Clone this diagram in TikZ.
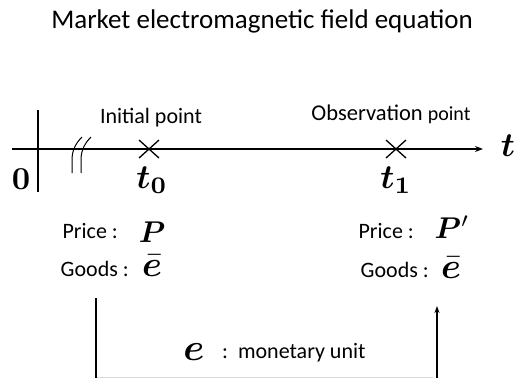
\documentclass[tikz,border=0pt]{standalone}
\usepackage{amsmath,bm}
\usepackage{graphicx}
\usepackage[no-math]{fontspec}
\setmainfont{Carlito}
\usetikzlibrary{arrows.meta,calc}
\tikzset{
  txt/.style={inner sep=0pt, font=\fontsize{22}{26}\selectfont},
  mth/.style={inner sep=0pt},
  axisline/.style={line width=1.6pt},
  barline/.style={line width=1.4pt},
  crossmark/.style={line width=1.3pt},
}
\newcommand{\mbig}[2]{\scalebox{#1}{$#2$}}
\begin{document}
\begin{tikzpicture}[x=1pt,y=-1pt]
\useasboundingbox (0,0) rectangle (515,378);
% title
\node[txt, font=\fontsize{27}{32}\selectfont, anchor=base] (title) at (262,28) {Market electromagnetic field equation};
% axis
\coordinate (axs) at (12,149);
\coordinate (axe) at (483,149);
\draw[axisline, -{Stealth[length=8pt,width=6pt]}] (axs) -- (axe);
\node[mth] (tlab) at (508,146) {\mbig{3.4}{\boldsymbol{t}}};
% origin bar
\coordinate (ob1) at (38,110);
\coordinate (ob2) at (38,192);
\draw[barline] (ob1) -- (ob2);
\node[mth] (zero) at (21,179) {\mbig{3.2}{\mathbf{0}}};
% break marks
\draw[line width=1pt] (82,137) .. controls (76,143) and (72,150) .. (72,160) -- (72,173);
\draw[line width=1pt] (91,137) .. controls (85,143) and (81,150) .. (81,160) -- (81,173);
% crosses
\coordinate (c0) at (149,149);
\coordinate (c1) at (396,149);
\draw[crossmark] ($(c0)+(-10,-9)$) -- ($(c0)+(10,9)$) ($(c0)+(-10,9)$) -- ($(c0)+(10,-9)$);
\draw[crossmark] ($(c1)+(-10,-9)$) -- ($(c1)+(10,9)$) ($(c1)+(-10,9)$) -- ($(c1)+(10,-9)$);
\node[txt] (init) at (151,118) {Initial point};
\node[txt, font=\fontsize{22.5}{26}\selectfont] (obs) at (391,114) {Observation {\fontsize{20}{24}\selectfont point}};
\node[mth] (t0) at (152,180) {\mbig{3.4}{\boldsymbol{t_0}}};
\node[mth] (t1) at (396,180) {\mbig{3.4}{\boldsymbol{t_1}}};
% left info
\node[txt, anchor=east] (pl) at (118,231) {Price :};
\node[mth] (Pl) at (152,232) {\mbig{3.0}{\boldsymbol{P}}};
\node[txt, anchor=east] (gl) at (129,269) {Goods :};
\node[mth] (el) at (152,266) {\mbig{3.6}{\bar{\boldsymbol{e}}}};
% right info
\node[txt, anchor=east] (pr) at (414,231) {Price :};
\node[mth] (Pr) at (452,227) {\mbig{3.0}{\boldsymbol{P}^{\prime}}};
\node[txt, anchor=east] (gr) at (429,270) {Goods :};
\node[mth] (er) at (451,268) {\mbig{3.6}{\bar{\boldsymbol{e}}}};
% bottom
\coordinate (lb1) at (96,298);
\coordinate (lb2) at (96,378);
\draw[barline] (lb1) -- (lb2);
\coordinate (ra1) at (437,378);
\coordinate (ra2) at (437,306);
\draw[barline, -{Stealth[length=7pt,width=5pt]}] (ra1) -- (ra2);
\node[mth] (eu) at (194,352) {\mbig{3.8}{\boldsymbol{e}}};
\node[txt, anchor=west] (mu) at (222,353) {:\ \ monetary unit};
\coordinate (fl1) at (97,377.5);
\coordinate (fl2) at (433,377.5);
\draw[black!15, line width=0.6pt] (fl1) -- (fl2);
\end{tikzpicture}
\end{document}
